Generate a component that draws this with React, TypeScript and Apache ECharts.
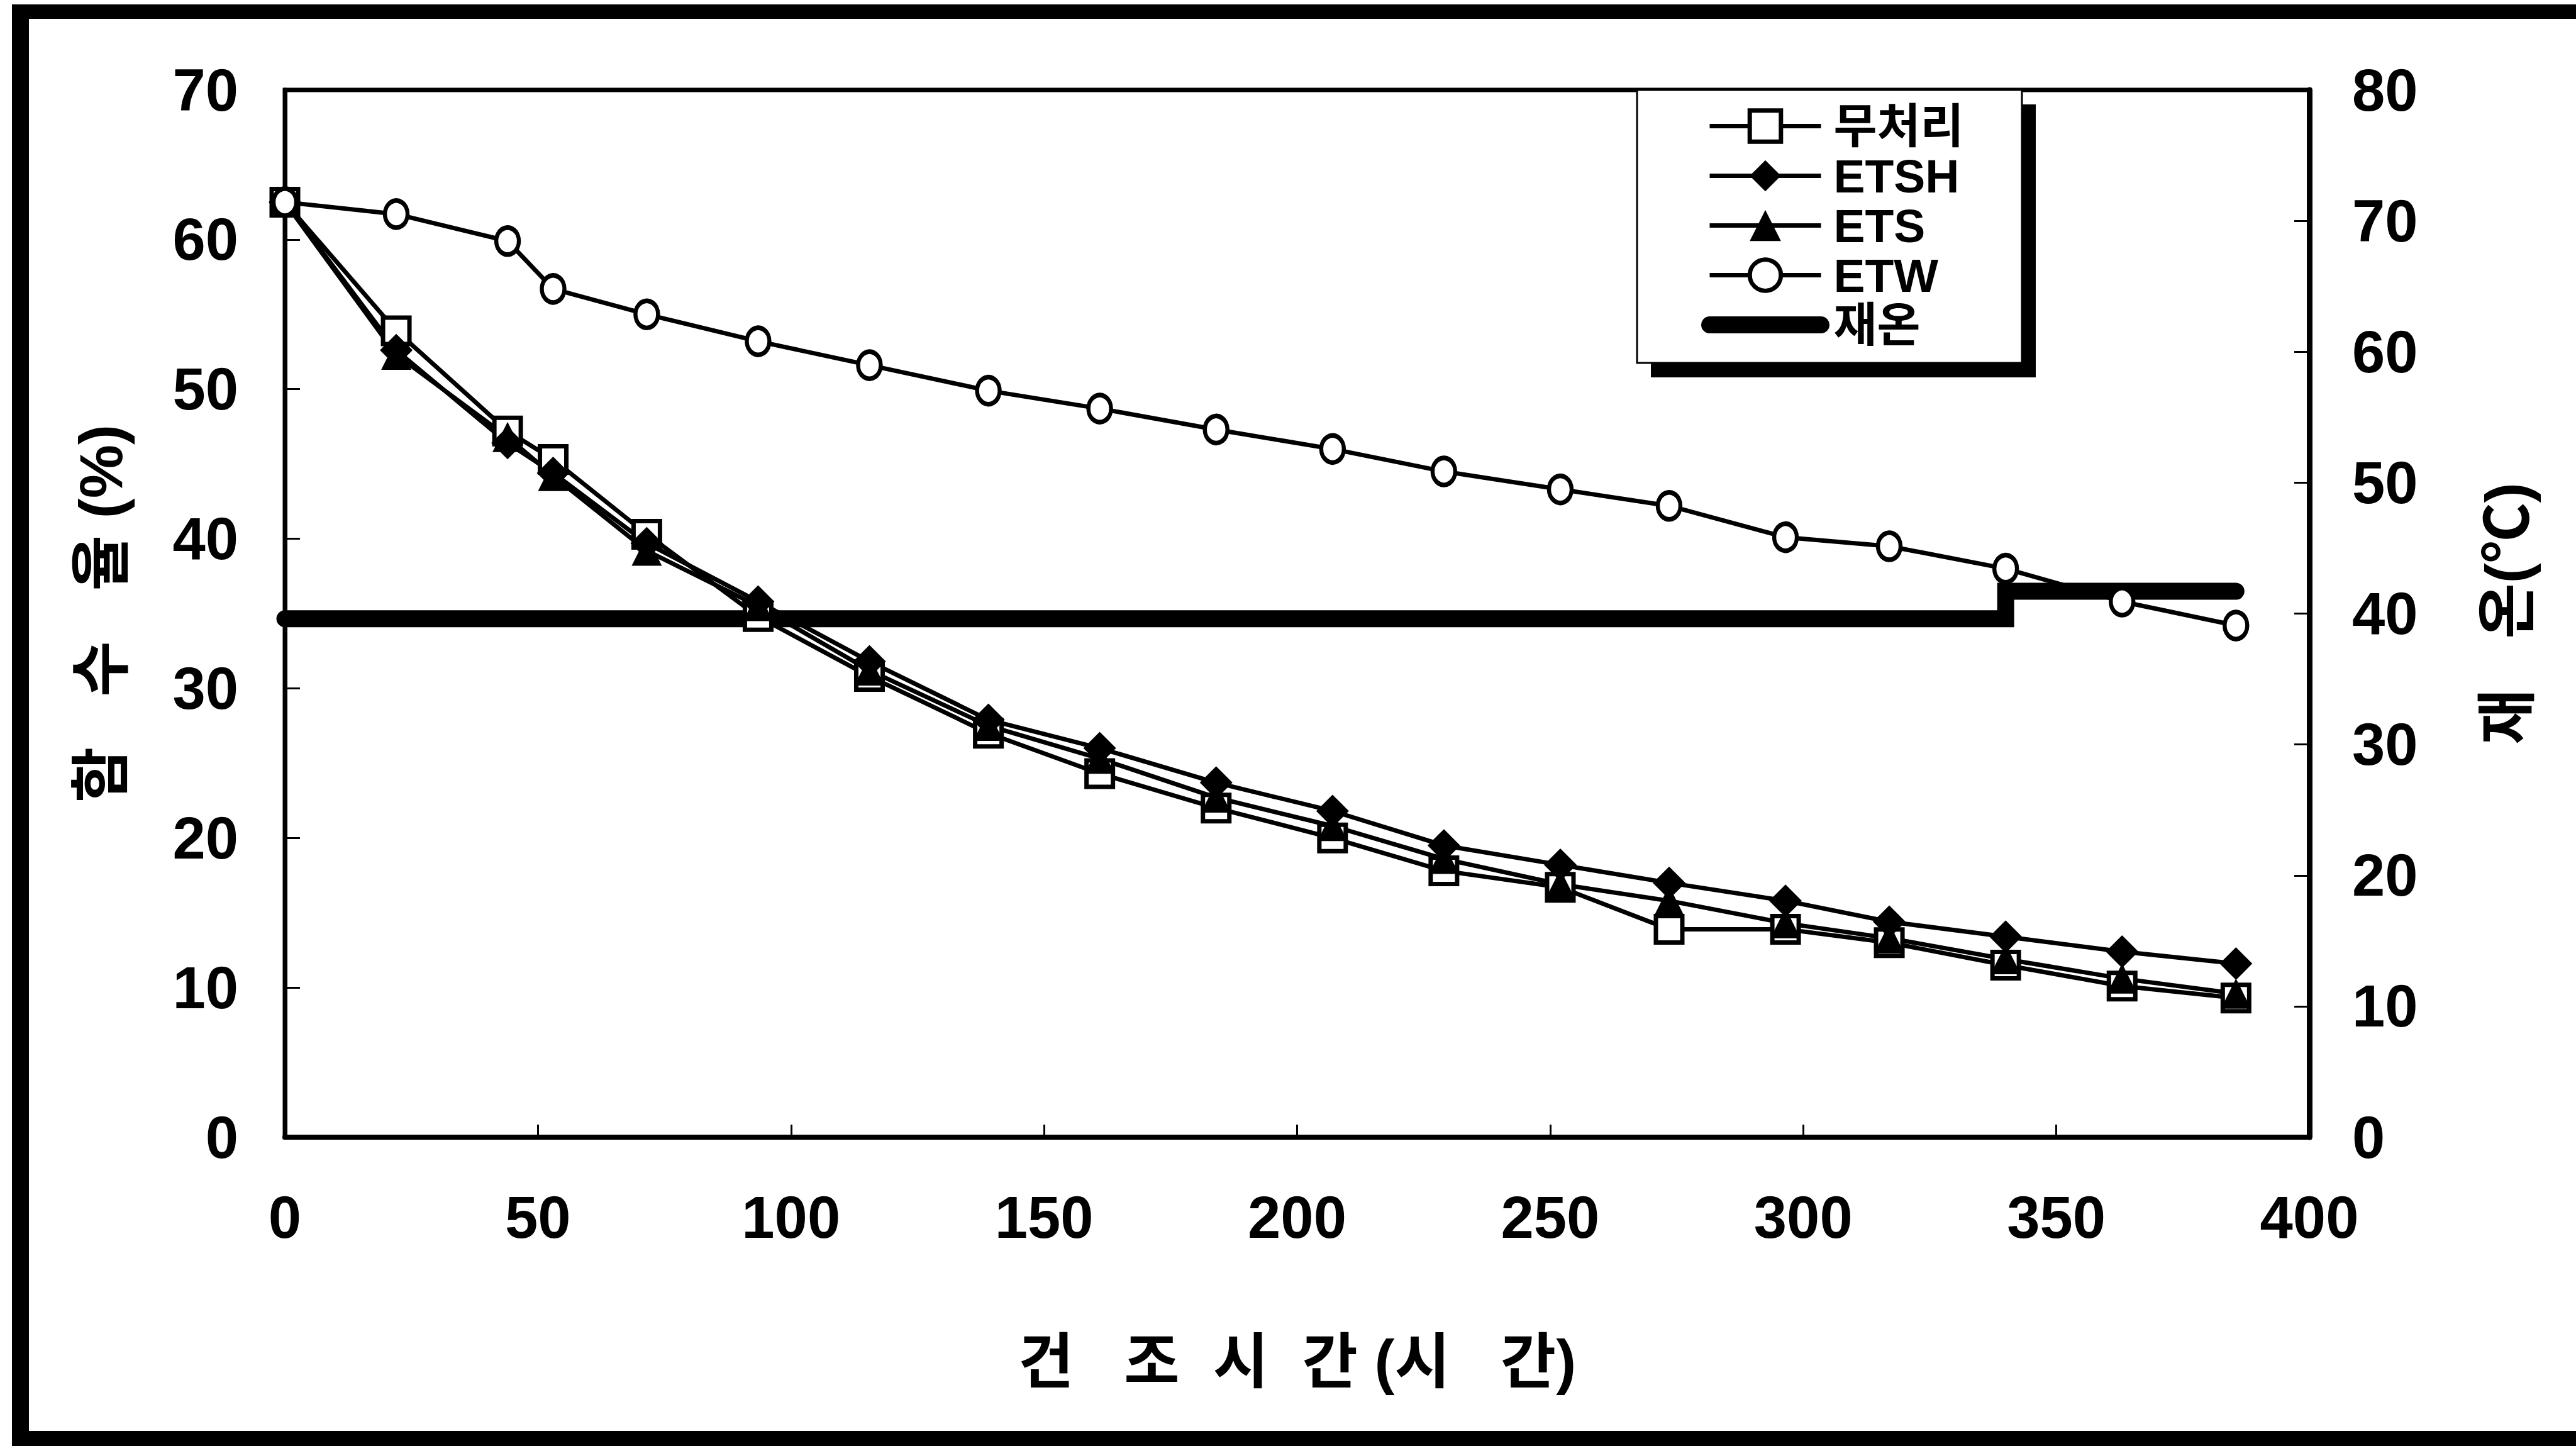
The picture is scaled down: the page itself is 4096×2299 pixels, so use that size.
import React, { useEffect, useRef } from 'react';
import * as echarts from 'echarts';

// ---- data ----
const hours = [0, 22, 44, 53, 71.5, 93.5, 115.5, 139, 161, 184, 207, 229, 252, 273.5, 296.5, 317, 340, 363, 385.5];
const untreated = [62.5, 53.9, 47.2, 45.3, 40.3, 34.8, 30.8, 27.0, 24.3, 22.0, 20.0, 17.8, 16.7, 13.9, 13.9, 13.0, 11.5, 10.1, 9.3];
const etsh = [62.5, 52.6, 46.4, 44.4, 39.7, 35.8, 31.8, 27.9, 26.0, 23.7, 21.8, 19.5, 18.2, 17.0, 15.8, 14.4, 13.4, 12.4, 11.6];
const ets = [62.5, 52.3, 46.8, 44.2, 39.2, 35.5, 31.2, 27.5, 25.3, 22.7, 20.8, 18.6, 16.9, 15.8, 14.3, 13.3, 11.9, 10.6, 9.6];
const etw = [62.5, 61.7, 59.9, 56.7, 55.0, 53.2, 51.6, 49.9, 48.7, 47.3, 46.0, 44.5, 43.3, 42.2, 40.1, 39.5, 38.0, 35.8, 34.2];
const tempHours = [0, 340, 340, 385.5];
const tempValues = [39.6, 39.6, 41.7, 41.7];
const seriesNames = ['무처리', 'ETSH', 'ETS', 'ETW', '재온'];
const xAxisTitle = '건   조  시  간 (시   간)';
const leftAxisTitle = '함   수   율 (%)';
const rightAxisTitle = '재   온(℃)';

const FONT = "'Liberation Sans', 'Noto Sans CJK KR', sans-serif";
const W = 4096;
const H = 2299;

const pairs = (xs: number[], ys: number[]) => xs.map((x, i) => [x, ys[i]]);

export default function App() {
  const ref = useRef<HTMLDivElement>(null);
  useEffect(() => {
    if (!ref.current) return;
    const chart = echarts.init(ref.current, null, { renderer: 'svg', width: W, height: H });
    const axisLabel = { fontSize: 94, fontWeight: 'bold', color: '#000', fontFamily: FONT };
    const lineW = 7;
    const option: any = {
      animation: false,
      backgroundColor: '#fff',
      grid: {
        left: 453, right: W - 3672, top: 143, bottom: H - 1808,
        containLabel: false, outerBoundsMode: 'none',
        show: true, borderColor: '#000', borderWidth: 7, backgroundColor: 'transparent',
      },
      xAxis: {
        type: 'value', min: 0, max: 400, interval: 50,
        name: xAxisTitle, nameLocation: 'middle', nameGap: 308,
        nameTextStyle: { fontSize: 96, fontWeight: 'bold', color: '#000', fontFamily: FONT },
        axisLine: { show: true, lineStyle: { color: '#000', width: 8 } },
        axisTick: { show: true, inside: true, length: 20, lineStyle: { color: '#000', width: 3 } },
        axisLabel: { ...axisLabel, margin: 80 },
        splitLine: { show: false },
      },
      yAxis: [
        {
          type: 'value', min: 0, max: 70, interval: 10, position: 'left',
          name: leftAxisTitle, nameLocation: 'middle', nameGap: 245, nameRotate: 90,
          nameTextStyle: { fontSize: 96, fontWeight: 'bold', color: '#000', fontFamily: FONT },
          axisLine: { show: true, lineStyle: { color: '#000', width: 7 } },
          axisTick: { show: true, inside: true, length: 24, lineStyle: { color: '#000', width: 3 } },
          axisLabel: { ...axisLabel, margin: 74 },
          splitLine: { show: false },
        },
        {
          type: 'value', min: 0, max: 80, interval: 10, position: 'right',
          name: rightAxisTitle, nameLocation: 'middle', nameGap: 266, nameRotate: 90,
          nameTextStyle: { fontSize: 96, fontWeight: 'bold', color: '#000', fontFamily: FONT },
          axisLine: { show: true, lineStyle: { color: '#000', width: 9 } },
          axisTick: { show: true, inside: true, length: 24, lineStyle: { color: '#000', width: 3 } },
          axisLabel: { ...axisLabel, margin: 68 },
          splitLine: { show: false },
        },
      ],
      legend: {
        orient: 'vertical', left: 2705, top: 163, padding: 0,
        itemWidth: 177, itemHeight: 62, itemGap: 4,
        selectedMode: false,
        lineStyle: { width: lineW, color: '#000' },
        textStyle: { fontSize: 75, fontWeight: 'bold', color: '#000', fontFamily: FONT, padding: [0, 0, 0, 15] },
        data: [
          { name: seriesNames[0], itemStyle: { borderWidth: lineW, borderColor: '#000', color: '#fff' } },
          { name: seriesNames[1] },
          { name: seriesNames[2] },
          { name: seriesNames[3], itemStyle: { borderWidth: lineW, borderColor: '#000', color: '#fff' } },
          { name: seriesNames[4], itemStyle: { opacity: 0 }, lineStyle: { width: 27, cap: 'round' } },
        ],
        z: 20,
      },
      graphic: [
        // legend box shadow + box
        { type: 'rect', z: 15, shape: { x: 2625, y: 166, width: 612, height: 434 }, style: { fill: '#000' } },
        { type: 'rect', z: 16, shape: { x: 2603, y: 143, width: 612, height: 434 }, style: { fill: '#fff', stroke: '#000', lineWidth: 3 } },
        // outer frame
        { type: 'rect', z: 30, shape: { x: 19, y: 7, width: W, height: 23 }, style: { fill: '#000' } },
        { type: 'rect', z: 30, shape: { x: 19, y: 7, width: 27, height: H }, style: { fill: '#000' } },
        { type: 'rect', z: 30, shape: { x: 19, y: 2275, width: W, height: 30 }, style: { fill: '#000' } },
      ],
      series: [
        {
          name: seriesNames[0], type: 'line', data: pairs(hours, untreated),
          symbol: 'rect', symbolSize: 42,
          itemStyle: { color: '#fff', borderColor: '#000', borderWidth: lineW },
          lineStyle: { color: '#000', width: lineW },
        },
        {
          name: seriesNames[1], type: 'line', data: pairs(hours, etsh),
          symbol: 'diamond', symbolSize: 52,
          itemStyle: { color: '#000' },
          lineStyle: { color: '#000', width: lineW },
        },
        {
          name: seriesNames[2], type: 'line', data: pairs(hours, ets),
          symbol: 'triangle', symbolSize: 48,
          itemStyle: { color: '#000' },
          lineStyle: { color: '#000', width: lineW },
        },
        {
          name: seriesNames[3], type: 'line', data: pairs(hours, etw),
          symbol: 'circle', symbolSize: [36, 43],
          itemStyle: { color: '#fff', borderColor: '#000', borderWidth: lineW },
          lineStyle: { color: '#000', width: lineW },
        },
        {
          name: seriesNames[4], type: 'line', yAxisIndex: 1, data: pairs(tempHours, tempValues),
          symbol: 'none', showSymbol: false,
          itemStyle: { color: '#000' },
          lineStyle: { color: '#000', width: 27, cap: 'round', join: 'miter' },
        },
      ],
    };
    chart.setOption(option);
    return () => chart.dispose();
  }, []);
  return (
    <div
      ref={ref}
      style={{ position: 'fixed', left: 0, top: 0, width: W, height: H, background: '#fff' }}
    />
  );
}
